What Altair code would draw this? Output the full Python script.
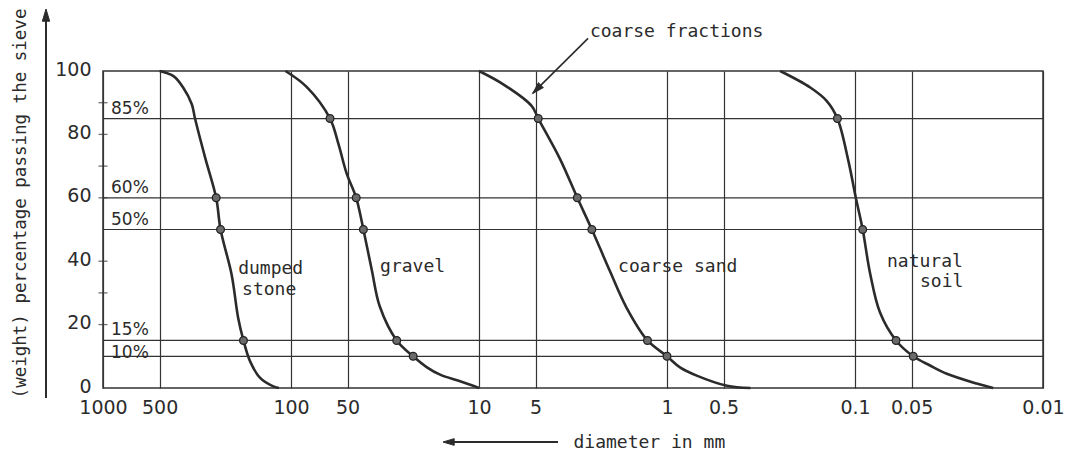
import altair as alt
import pandas as pd

# Grading curves: grain diameter (mm) against weight percentage passing the sieve
dumped_d = [500, 420, 374, 337, 324, 286, 250, 237, 207, 191, 179, 165, 146, 125, 116]
dumped_p = [100, 98.3, 94.7, 89.5, 85, 72.6, 60, 50, 35.8, 22.1, 15, 8.4, 3.2, 0.6, 0]

gravel_d = [107, 82.6, 62, 56, 50.6, 45, 41.2, 37.2, 33.7, 27.4, 22.4, 19.0, 16.1, 12.6, 10]
gravel_p = [100, 95, 85, 77.1, 67.7, 60, 50, 37.3, 25.7, 15, 10, 6.6, 4.2, 2.1, 0]

sand_d = [10, 7.43, 5.25, 4.84, 3.71, 3.0, 2.51, 2.01, 1.64, 1.27, 1.0, 0.853, 0.695, 0.48, 0.36]
sand_p = [100, 95.8, 89, 85, 72.3, 60, 50, 36.8, 25.3, 15, 10, 6.5, 3.9, 0.7, 0]

soil_d = [0.25, 0.173, 0.1416, 0.124, 0.1086, 0.099, 0.091, 0.0832, 0.0736, 0.0605, 0.049, 0.0399, 0.0325, 0.0225, 0.0184]
soil_p = [100, 94.8, 90.6, 85, 71.8, 60, 50, 36.3, 23.8, 15, 10, 7.1, 4.5, 1.4, 0]

curves = {
    "dumped stone": (dumped_d, dumped_p, [60, 50, 15]),
    "gravel": (gravel_d, gravel_p, [85, 60, 50, 15, 10]),
    "coarse sand": (sand_d, sand_p, [85, 60, 50, 15, 10]),
    "natural soil": (soil_d, soil_p, [85, 50, 15, 10]),
}

# Characteristic percentages drawn as horizontal reference lines
levels = [85, 60, 50, 15, 10]
level_labels = ["85%", "60%", "50%", "15%", "10%"]

x_ticks = [1000, 500, 100, 50, 10, 5, 1, 0.5, 0.1, 0.05, 0.01]
y_ticks = [0, 20, 40, 60, 80, 100]
y_axis_marks = [20, 30, 40, 60, 70, 80, 90]

# Curve names and the callout, placed in diameter / percentage units
note_text = ["dumped", "stone", "gravel", "coarse sand", "natural", "soil", "coarse fractions"]
note_d = [191, 182, 33.6, 1.82, 0.0676, 0.0451, 2.57]
note_p = [37.4, 31.0, 38.1, 38.1, 39.7, 33.3, 112.2]
arrow_from = (2.63, 110.3)
arrow_to = (5.17, 93.0)

INK = "#2b2b2b"
SANS = "DejaVu Sans"
LETTER = "DejaVu Sans Mono"
HEAD = "M0,0 L-0.3,1 L0.3,1 Z"

rows, dots = [], []
for name, (ds, ps, marked) in curves.items():
    for i, (d, p) in enumerate(zip(ds, ps)):
        rows.append({"material": name, "d": d, "p": p, "i": i})
        if p in marked:
            dots.append({"material": name, "d": d, "p": p})
curve_df = pd.DataFrame(rows)
dot_df = pd.DataFrame(dots)
level_df = pd.DataFrame({"p": levels, "label": level_labels})
tick_df = pd.DataFrame({"p": y_axis_marks})
note_df = pd.DataFrame({"d": note_d, "p": note_p, "text": note_text})
callout_df = pd.DataFrame({"d": [arrow_from[0]], "p": [arrow_from[1]],
                           "d2": [arrow_to[0]], "p2": [arrow_to[1]]})
head_df = pd.DataFrame({"d": [arrow_to[0]], "p": [arrow_to[1]]})
blank = pd.DataFrame({"k": [0]})

x_scale = alt.Scale(type="log", domain=[0.01, 1000], reverse=True, nice=False)
y_scale = alt.Scale(domain=[0, 100], nice=False, zero=True)

x_enc = alt.X(
    "d:Q", scale=x_scale,
    axis=alt.Axis(
        values=x_ticks, format="~g", grid=True, gridColor="#333333", gridWidth=1.2,
        ticks=False, domain=False, labelFont=SANS, labelFontSize=19, labelColor=INK,
        labelPadding=10, labelFlush=False, labelOverlap=False,
        title="diameter in mm", titleFont=LETTER, titleFontSize=18,
        titleFontWeight="normal", titleColor=INK, titleAlign="left",
        titleBaseline="middle", titleX=470, titleY=54,
    ),
)
y_enc = alt.Y(
    "p:Q", scale=y_scale,
    axis=alt.Axis(
        values=y_ticks, grid=False, ticks=False, domain=False, labelFont=SANS,
        labelFontSize=19, labelColor=INK, labelPadding=12, labelFlush=False,
        labelOffset=-2,
        title="(weight) percentage passing the sieve", titleFont=LETTER,
        titleFontSize=17.5, titleFontWeight="normal", titleColor=INK,
        titleAngle=270, titleAlign="center", titleBaseline="middle",
        titleX=-83, titleY=132,
    ),
)

level_lines = alt.Chart(level_df).mark_rule(color="#333333", strokeWidth=1.2).encode(y=y_enc)

# Percentage tags sit just above their lines; the 10 % tag straddles its line
level_text = alt.Chart(level_df).transform_filter("datum.p != 10").mark_text(
    align="left", baseline="bottom", dy=-1, font=SANS, fontSize=17, color=INK
).encode(x=alt.value(8), y=y_enc, text="label:N")
level_text_low = alt.Chart(level_df).transform_filter("datum.p == 10").mark_text(
    align="left", baseline="middle", dy=-3, font=SANS, fontSize=17, color=INK
).encode(x=alt.value(8), y=y_enc, text="label:N")

axis_marks = alt.Chart(tick_df).mark_tick(
    orient="horizontal", size=9, thickness=1.3, color="#333333"
).encode(x=alt.value(0), y=y_enc)

lines = alt.Chart(curve_df).mark_line(
    color=INK, strokeWidth=2.6, interpolate="catmull-rom"
).encode(x=x_enc, y=y_enc, detail="material:N", order="i:Q")

points = alt.Chart(dot_df).mark_point(
    shape="circle", size=60, filled=True, fill="#6a6a6a", stroke="#222222",
    strokeWidth=1.3, opacity=1
).encode(x=x_enc, y=y_enc)

notes = alt.Chart(note_df).mark_text(
    align="left", baseline="middle", font=LETTER, fontSize=18, color=INK
).encode(x=x_enc, y=y_enc, text="text:N")

callout = alt.Chart(callout_df).mark_rule(color=INK, strokeWidth=1.6).encode(
    x=x_enc, y=y_enc, x2="d2:Q", y2="p2:Q"
)
callout_head = alt.Chart(head_df).mark_point(
    shape=HEAD, size=500, filled=True, fill=INK, stroke=INK, strokeWidth=1,
    angle=225, opacity=1
).encode(x=x_enc, y=y_enc)

# Axis direction arrows beside the axis titles
y_arrow = alt.Chart(blank).mark_rule(color=INK, strokeWidth=2).encode(
    x=alt.value(-57), y=alt.value(327), y2=alt.value(-55)
)
y_arrow_head = alt.Chart(blank).mark_point(
    shape=HEAD, size=600, filled=True, fill=INK, stroke=INK, strokeWidth=1,
    angle=0, opacity=1
).encode(x=alt.value(-57), y=alt.value(-62))
x_arrow = alt.Chart(blank).mark_rule(color=INK, strokeWidth=2).encode(
    x=alt.value(455), x2=alt.value(348), y=alt.value(371)
)
x_arrow_head = alt.Chart(blank).mark_point(
    shape=HEAD, size=500, filled=True, fill=INK, stroke=INK, strokeWidth=1,
    angle=270, opacity=1
).encode(x=alt.value(340), y=alt.value(371))

chart = alt.layer(
    lines, level_lines, level_text, level_text_low, axis_marks, points, notes,
    callout, callout_head, y_arrow, y_arrow_head, x_arrow, x_arrow_head,
).properties(
    width=940, height=317,
    padding={"left": 103, "top": 71, "right": 34, "bottom": 66},
    autosize="none", background="white",
).configure_view(stroke="#333333", strokeWidth=1.5)

chart.save("out.html", embed_options={"renderer": "svg", "actions": False})
